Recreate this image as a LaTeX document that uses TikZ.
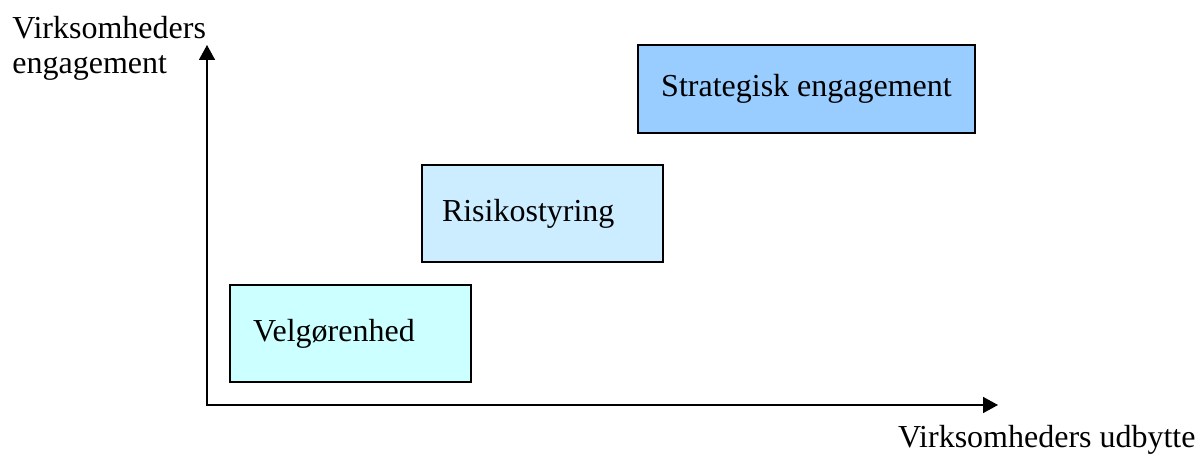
\documentclass[tikz,border=0pt]{standalone}
\usepackage{fontspec}
\setmainfont{Liberation Serif}
\usetikzlibrary{arrows.meta}
\definecolor{velgfill}{HTML}{CCFFFF}
\definecolor{risikofill}{HTML}{CCECFF}
\definecolor{stratfill}{HTML}{99CCFF}
\tikzset{
  stage/.style={draw=black, line width=0.8pt, rectangle, minimum height=48.5pt, align=left},
  axis/.style={line width=0.8pt, {Triangle[width=8pt,length=7.5pt]}-{Triangle[width=8pt,length=7.5pt]}},
  lbl/.style={inner sep=0pt, align=left}
}
\begin{document}
\begin{tikzpicture}[x=0.5pt,y=-0.5pt,font=\fontsize{16}{17.5}\selectfont]
 \useasboundingbox (0,0) rectangle (1200,454);
 \coordinate (O) at (207,405);
 \coordinate (ytip) at (207,45);
 \coordinate (xtip) at (998,405);
 \draw[axis] (ytip) -- (O) -- (xtip);
 \node[lbl, anchor=north west] (ylabel) at (12,16) {Virksomheders\\engagement};
 \node[lbl, anchor=base east] (xlabel) at (1196,447) {Virksomheders udbytte};
 \node[stage, fill=velgfill, inner xsep=11.5pt, text width=97.5pt] (velg) at (350.5,333.5) {Velgørenhed};
 \node[stage, fill=risikofill, inner xsep=10pt, text width=100.5pt] (risiko) at (542.5,213.5) {Risikostyring};
 \node[stage, fill=stratfill, minimum width=168.5pt, minimum height=44pt, align=center] (strat) at (806.5,89) {Strategisk engagement};
\end{tikzpicture}
\end{document}
